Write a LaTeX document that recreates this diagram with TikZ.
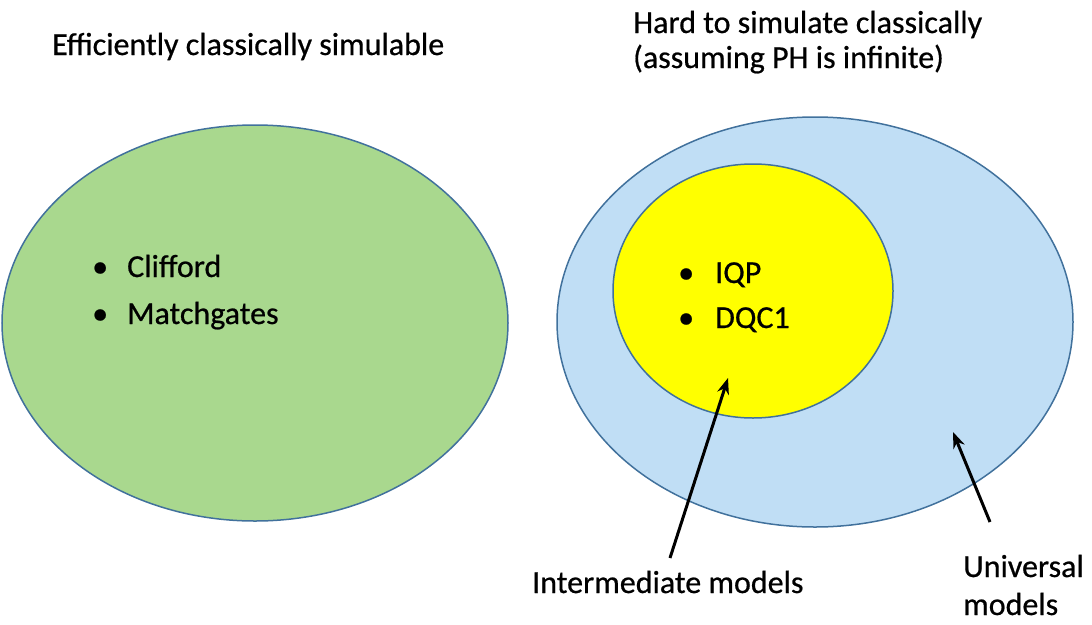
\documentclass[tikz,border=0pt]{standalone}
\usepackage{fontspec}
\setmainfont{Carlito}[FakeBold=0.6]
\usepackage{xcolor}
\usetikzlibrary{arrows.meta}
\definecolor{rimblue}{HTML}{41719C}
\definecolor{easygreen}{HTML}{A9D88E}
\definecolor{hardblue}{HTML}{C0DEF5}
\definecolor{midyellow}{HTML}{FFFF00}

\begin{document}
\begin{tikzpicture}[x=1pt, y=-1pt,
  every node/.style={inner sep=0pt, anchor=base west, font=\fontsize{32}{38}\selectfont},
  set/.style={draw=rimblue, line width=1.5pt},
  pointer/.style={-{Stealth[length=16pt, width=12pt]}, line width=3pt}]
\useasboundingbox (0,0) rectangle (1092,624);

% the three classes
\draw[set, fill=easygreen] (255,323) ellipse [x radius=253pt, y radius=198pt];
\draw[set, fill=hardblue] (815,322) ellipse [x radius=258pt, y radius=205pt];
\draw[set, fill=midyellow] (753,291) ellipse [x radius=140pt, y radius=127pt];

% headings
\node (easy) at (52,55) {Efficiently classically\ simulable};
\node (hard1) at (633,33) {Hard to simulate classically};
\node (hard2) at (633,68) {(assuming PH is infinite)};

% members
\node (dota) at (92,277) {•};
\node (cliff) at (127,277) {Clifford};
\node (dotb) at (92,324) {•};
\node (match) at (127,324) {Matchgates};
\node (dotc) at (678,283) {•};
\node (iqp) at (715,283) {IQP};
\node (dotd) at (678,328) {•};
\node (dqc) at (715,328) {DQC1};

% labels below
\node (inter) at (532,593) {Intermediate models};
\node (univ1) at (963,577) {Universal};
\node (univ2) at (963,615) {models};

\coordinate (interfoot) at (670,558);
\coordinate (intertip) at (728,378);
\coordinate (univfoot) at (990,522);
\coordinate (univtip) at (953,432);
\draw[pointer] (interfoot) -- (intertip);
\draw[pointer] (univfoot) -- (univtip);
\end{tikzpicture}
\end{document}
